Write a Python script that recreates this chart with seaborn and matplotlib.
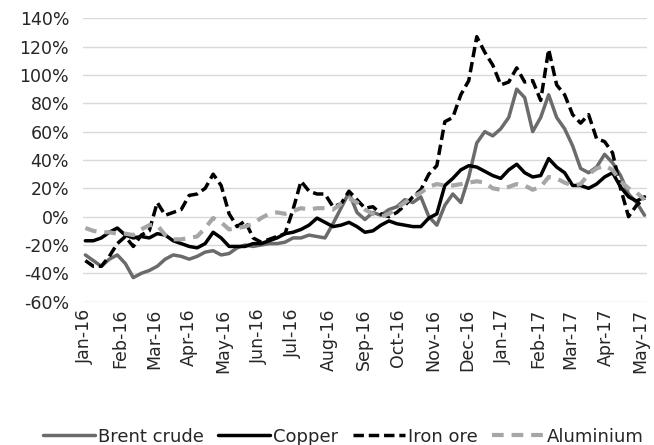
import pandas as pd
import numpy as np
import matplotlib.pyplot as plt
import matplotlib.dates as mdates
import matplotlib.ticker as ticker
import seaborn as sns

# weekly observations, % change
dates = pd.date_range('2016-01-01', periods=71, freq='7D')

brent = [-27, -31, -35, -30, -27, -33, -43, -40, -38, -35,
         -30, -27, -28, -30, -28, -25, -24, -27, -26, -22,
         -20, -21, -20, -19, -19, -18, -15, -15, -13, -14,
         -15, -5, 6, 17, 3, -2, 3, 1, 5, 7,
         12, 10, 14, 0, -6, 8, 16, 10, 28, 52,
         60, 57, 62, 70, 90, 84, 60, 70, 86, 70,
         62, 50, 34, 31, 35, 44, 38, 29, 16, 10, 1]

copper = [-17, -17, -15, -11, -8, -13, -15, -14, -15, -12,
          -13, -17, -19, -21, -22, -19, -11, -15, -21, -21,
          -21, -19, -19, -17, -15, -12, -11, -9, -6, -1,
          -4, -7, -6, -4, -7, -11, -10, -6, -3, -5,
          -6, -7, -7, -1, 2, 22, 27, 33, 36, 35,
          32, 29, 27, 33, 37, 31, 28, 29, 41, 35,
          31, 22, 22, 20, 23, 28, 31, 21, 14, 11, 14]

iron_ore = [-31, -35, -35, -28, -19, -14, -21, -13, -10, 10,
            1, 3, 5, 15, 16, 20, 30, 22, 2, -7,
            -3, -15, -18, -16, -14, -12, 5, 25, 18, 16,
            16, 7, 9, 18, 12, 6, 7, 2, 0, 3,
            8, 14, 19, 30, 36, 67, 70, 86, 96, 127,
            116, 107, 93, 95, 105, 95, 96, 82, 118, 93,
            86, 72, 66, 72, 55, 53, 45, 20, 0, 8, 13]

aluminium = [-8, -10, -11, -11, -12, -12, -13, -9, -6, -6,
             -13, -16, -16, -15, -14, -8, -1, -4, -9, -8,
             -7, -5, -1, 2, 3, 2, 4, 6, 5, 6,
             6, 5, 9, 13, 10, 5, 2, 0, 2, 6,
             10, 14, 17, 21, 23, 22, 22, 23, 24, 25,
             24, 20, 19, 21, 23, 22, 19, 21, 28, 27,
             24, 22, 23, 30, 34, 36, 33, 25, 20, 17, 12]

series = {'Brent crude': brent, 'Copper': copper,
          'Iron ore': iron_ore, 'Aluminium': aluminium}

styles = {
    'Brent crude': dict(color='#6b6b6b', lw=2.5),
    'Copper': dict(color='black', lw=2.5),
    'Iron ore': dict(color='black', lw=2.5, dashes=(3.0, 1.4)),
    'Aluminium': dict(color='#a6a6a6', lw=3.0, dashes=(2.8, 1.9)),
}

sns.set_style('white')
plt.rcParams['font.family'] = ['DejaVu Sans']

fig = plt.figure(figsize=(6.54, 4.45), dpi=100)
ax = fig.add_axes([0.127, 0.322, 0.862, 0.637])

for name, vals in series.items():
    st = styles[name]
    df = pd.DataFrame({'date': dates, 'value': vals})
    sns.lineplot(data=df, x='date', y='value', ax=ax, label=name,
                 color=st['color'], linewidth=st['lw'])
    if 'dashes' in st:
        ax.lines[-1].set_dashes(st['dashes'])

ax.set_ylim(-60, 140)
ax.set_yticks(range(-60, 141, 20))
ax.yaxis.set_major_formatter(ticker.FuncFormatter(lambda v, p: f'{v:.0f}%'))
ax.set_xlim(dates[0] - pd.Timedelta(days=2), dates[-1] + pd.Timedelta(days=2))
ax.xaxis.set_major_locator(mdates.MonthLocator())
ax.xaxis.set_major_formatter(mdates.DateFormatter('%b-%y'))
plt.setp(ax.get_xticklabels(), rotation=90)
ax.tick_params(axis='both', labelsize=12.5, length=0, colors='#262626')
ax.tick_params(axis='y', pad=10)
ax.tick_params(axis='x', pad=5)
ax.set_xlabel('')
ax.set_ylabel('')

ax.grid(axis='y', color='#d9d9d9', lw=1)
ax.set_axisbelow(True)
sns.despine(ax=ax, left=True, bottom=True)

ax.get_legend().remove()
handles, labels = ax.get_legend_handles_labels()
fig.legend(handles, labels, loc='lower center', bbox_to_anchor=(0.525, -0.038),
           ncol=4, frameon=False, fontsize=13, handlelength=2.9,
           handletextpad=0.15, columnspacing=0.8, labelcolor='#262626')

fig.savefig('out.png', dpi=100)
